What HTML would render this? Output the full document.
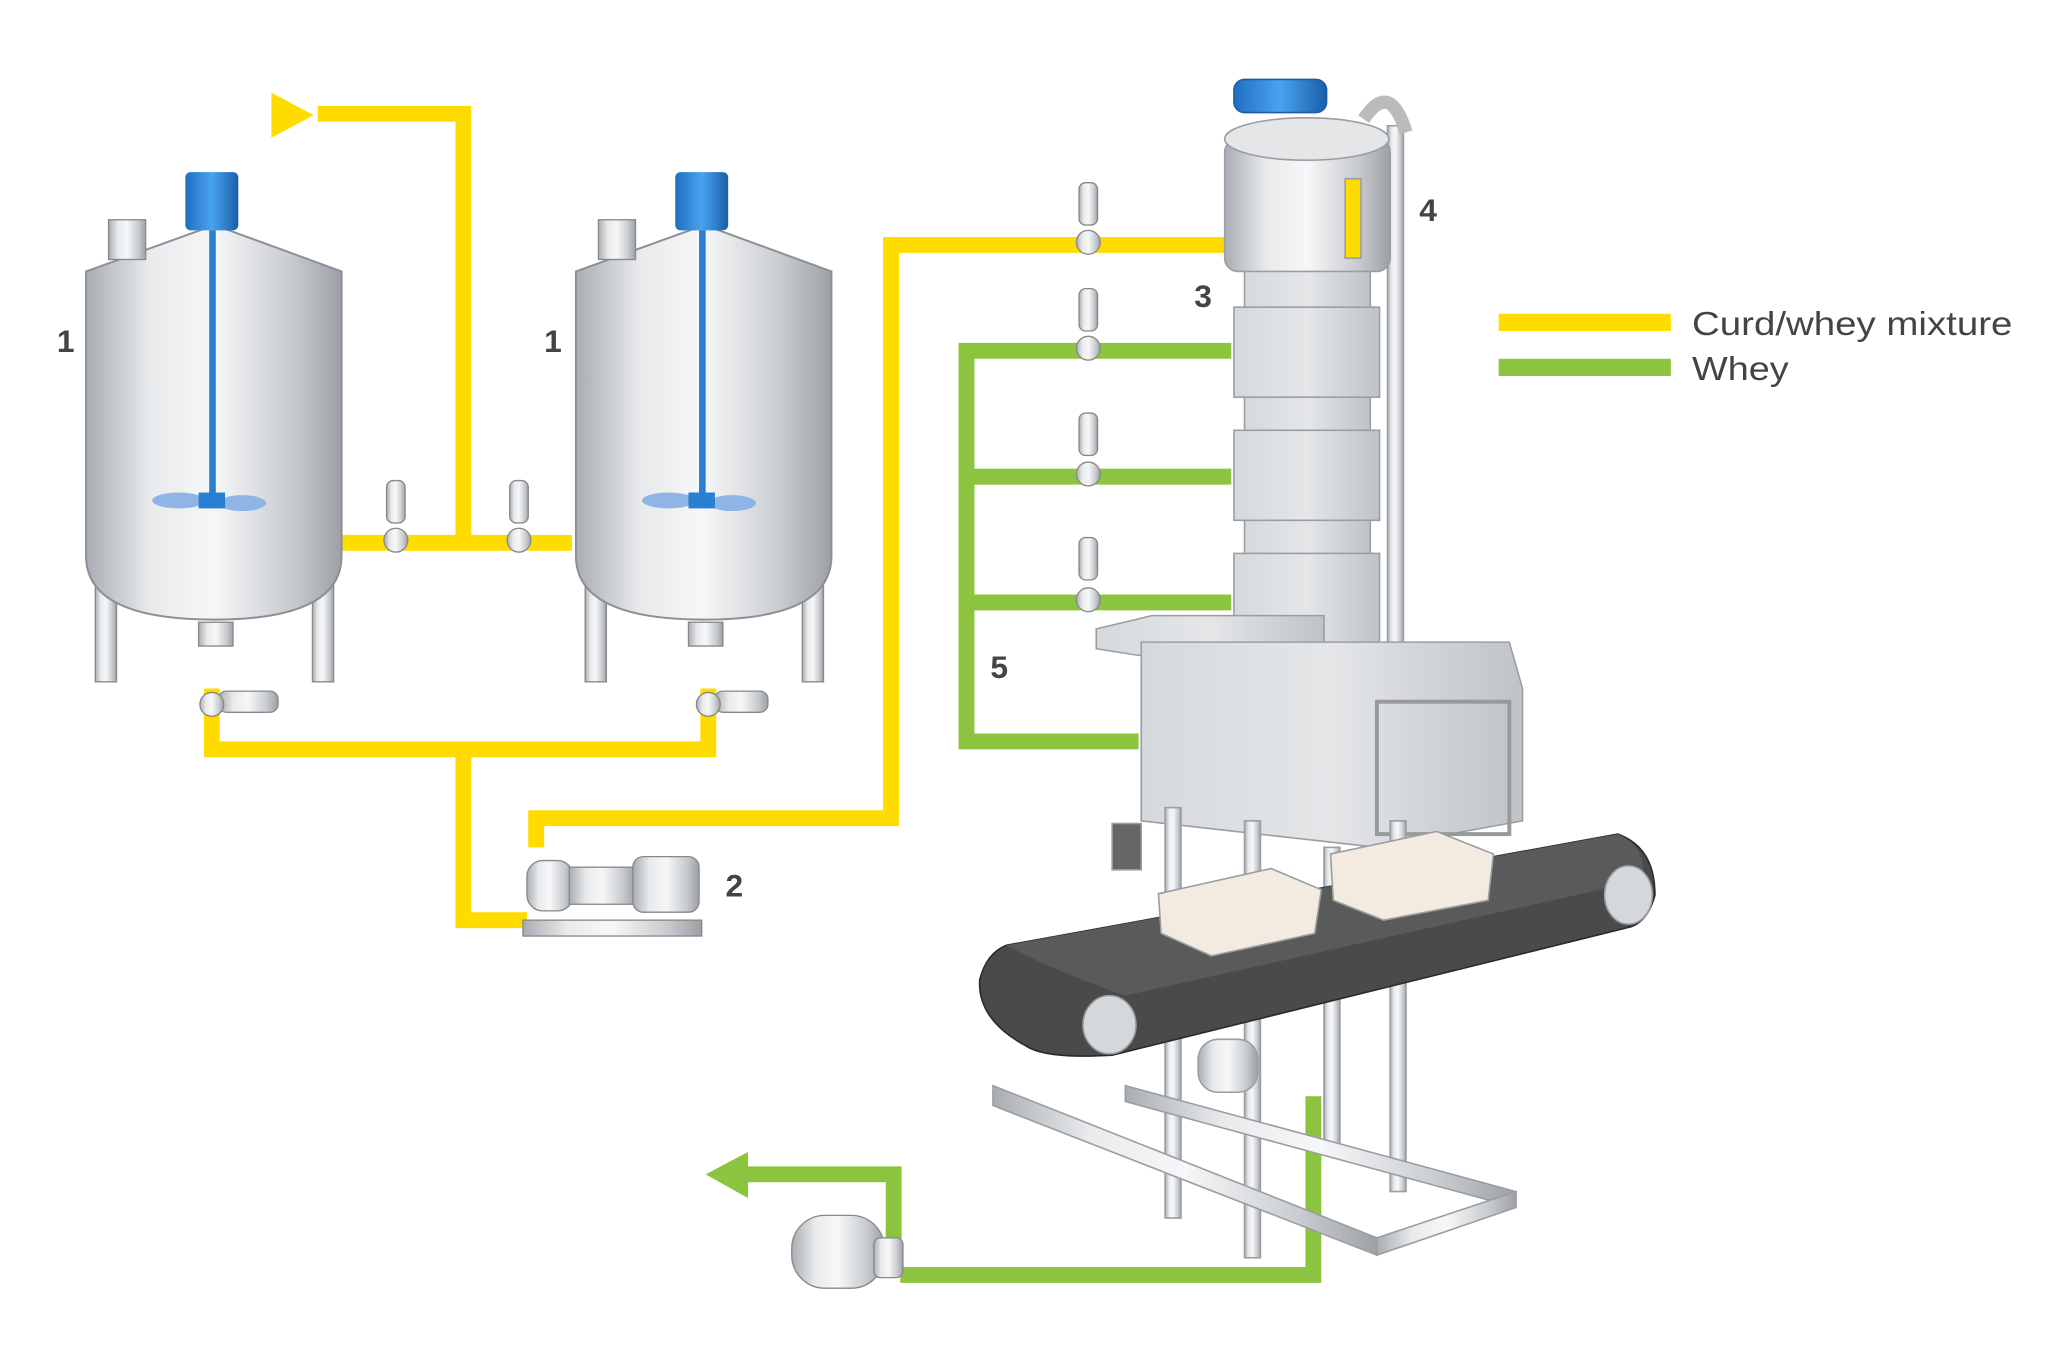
<!DOCTYPE html>
<html><head><meta charset="utf-8"><style>
html,body{margin:0;padding:0;background:#fff;}
svg{display:block}
text{font-family:"Liberation Sans",sans-serif;}
</style></head><body>
<svg width="2072" height="1365" viewBox="0 0 1565 1031" xmlns="http://www.w3.org/2000/svg">
<defs>
<linearGradient id="steel" x1="0" x2="1">
<stop offset="0" stop-color="#a9adb2"/><stop offset="0.25" stop-color="#e8eaec"/><stop offset="0.5" stop-color="#f6f7f8"/><stop offset="0.8" stop-color="#c9ccd0"/><stop offset="1" stop-color="#9da1a6"/>
</linearGradient>
<linearGradient id="box" x1="0" x2="1">
<stop offset="0" stop-color="#d6d9dc"/><stop offset="0.5" stop-color="#e4e6e8"/><stop offset="1" stop-color="#bfc3c7"/>
</linearGradient>
<linearGradient id="blue" x1="0" x2="1">
<stop offset="0" stop-color="#1f6fc0"/><stop offset="0.5" stop-color="#4aa3f0"/><stop offset="1" stop-color="#1a5ea8"/>
</linearGradient>
</defs>

<!-- yellow pipes -->
<g fill="none" stroke="#ffdc00" stroke-width="12">
<polyline points="240,86 350,86 350,410"/>
<polyline points="258,410 432,410"/>
<polyline points="160,520 160,566 535,566 535,520"/>
<polyline points="350,566 350,695 398,695"/>
<polyline points="405,640 405,618 673,618 673,185 930,185"/>
</g>
<polygon points="205,70 237,87 205,104" fill="#ffdc00"/>

<!-- green pipes -->
<g fill="none" stroke="#8cc43f" stroke-width="12">
<polyline points="930,265 730,265 730,560 860,560"/>
<polyline points="730,360 930,360"/>
<polyline points="730,455 930,455"/>
<polyline points="992,828 992,963 680,963"/>
<polyline points="675,945 675,887 565,887"/>
</g>
<polygon points="565,870 533,887 565,905" fill="#8cc43f"/>

<!-- tanks -->
<g>
<g id="tank">
<rect x="72" y="410" width="16" height="105" fill="url(#steel)" stroke="#888" stroke-width="1"/>
<rect x="236" y="410" width="16" height="105" fill="url(#steel)" stroke="#888" stroke-width="1"/>
<rect x="150" y="470" width="26" height="18" fill="url(#steel)" stroke="#888"/>
<path d="M65,205 L162,170 L258,205 L258,420 Q258,468 162,468 Q65,468 65,420 Z" fill="url(#steel)" stroke="#8c9096" stroke-width="1.5"/>
<rect x="82" y="166" width="28" height="30" fill="url(#steel)" stroke="#888"/>
<rect x="140" y="130" width="40" height="44" rx="4" fill="url(#blue)"/>
<rect x="158" y="174" width="5" height="200" fill="#2b7fd2"/>
<ellipse cx="135" cy="378" rx="20" ry="6" fill="#8fb4e6"/>
<ellipse cx="183" cy="380" rx="18" ry="6" fill="#8fb4e6"/>
<rect x="150" y="372" width="20" height="12" fill="#2b7fd2"/>
</g>
<use href="#tank" transform="translate(370,0)"/>
</g>

<!-- valves -->
<g fill="url(#steel)" stroke="#888">
<rect x="292" y="363" width="14" height="32" rx="5"/><circle cx="299" cy="408" r="9"/>
<rect x="385" y="363" width="14" height="32" rx="5"/><circle cx="392" cy="408" r="9"/>
<rect x="815" y="138" width="14" height="32" rx="5"/><circle cx="822" cy="183" r="9"/>
<rect x="815" y="218" width="14" height="32" rx="5"/><circle cx="822" cy="263" r="9"/>
<rect x="815" y="312" width="14" height="32" rx="5"/><circle cx="822" cy="358" r="9"/>
<rect x="815" y="406" width="14" height="32" rx="5"/><circle cx="822" cy="453" r="9"/>
<rect x="165" y="522" width="45" height="16" rx="6"/><circle cx="160" cy="532" r="9"/>
<rect x="540" y="522" width="40" height="16" rx="6"/><circle cx="535" cy="532" r="9"/>
</g>

<!-- pump 2 -->
<g fill="url(#steel)" stroke="#888">
<rect x="395" y="695" width="135" height="12"/>
<rect x="398" y="650" width="35" height="38" rx="12"/>
<rect x="430" y="655" width="50" height="28"/>
<rect x="478" y="647" width="50" height="42" rx="8"/>
</g>
<!-- pump bottom -->
<g fill="url(#steel)" stroke="#888">
<rect x="598" y="918" width="70" height="55" rx="25"/>
<rect x="660" y="935" width="22" height="30" rx="5"/>
</g>

<!-- tower -->
<g stroke="#9a9ea3" stroke-width="1.2">
<rect x="1048" y="95" width="12" height="400" fill="url(#steel)"/>
<path d="M1030,90 Q1050,60 1062,100" fill="none" stroke="#bbb" stroke-width="10"/>
<rect x="932" y="60" width="70" height="25" rx="8" fill="url(#blue)" stroke="#1a5ea8"/>
<rect x="940" y="200" width="95" height="320" fill="url(#box)"/>
<rect x="925" y="105" width="125" height="100" rx="10" fill="url(#steel)"/>
<ellipse cx="987" cy="105" rx="62" ry="16" fill="#e4e6e8"/>
<rect x="1016" y="135" width="12" height="60" fill="#ffdc00"/>
<rect x="932" y="232" width="110" height="68" fill="url(#box)"/>
<rect x="932" y="325" width="110" height="68" fill="url(#box)"/>
<rect x="932" y="418" width="110" height="68" fill="url(#box)"/>
<polygon points="828,475 870,465 1000,465 1000,495 860,495 828,490" fill="url(#box)"/>
<polygon points="862,485 1140,485 1150,520 1150,620 1040,640 862,620" fill="url(#box)"/>
<rect x="1040" y="530" width="100" height="100" fill="none" stroke="#999" stroke-width="3"/>
<rect x="840" y="622" width="22" height="35" fill="#666"/>
<!-- legs -->
<g fill="url(#steel)">
<rect x="880" y="610" width="12" height="310"/>
<rect x="940" y="620" width="12" height="330"/>
<rect x="1050" y="620" width="12" height="280"/>
<rect x="1000" y="640" width="12" height="230"/>
<polygon points="750,820 1040,935 1040,948 750,835"/>
<polygon points="850,820 1145,900 1145,912 850,832"/>
<polygon points="1040,935 1145,900 1145,912 1040,948"/>
</g>
<!-- belt -->
<path d="M760,714 L1222,630 Q1250,640 1250,676 Q1245,695 1232,700 L840,797 Q790,800 775,790 Q738,770 740,740 Q745,720 760,714 Z" fill="#4a4a4a" stroke="#2a2a2a"/>
<path d="M760,714 L1222,630 Q1245,640 1240,665 L850,752 Q800,735 760,714 Z" fill="#5a5a5a" stroke="none"/>
<ellipse cx="838" cy="774" rx="20" ry="22" fill="#d5d8db"/>
<ellipse cx="1230" cy="676" rx="18" ry="22" fill="#d5d8db"/>
<!-- trays -->
<polygon points="875,675 960,656 998,672 993,705 915,722 877,705" fill="#f3ebe0"/>
<polygon points="1005,645 1085,628 1128,645 1124,680 1045,695 1007,680" fill="#f3ebe0"/>
<rect x="905" y="785" width="45" height="40" rx="15" fill="url(#steel)"/>
</g>

<!-- labels -->
<g font-weight="bold" font-size="24" fill="#444">
<text x="43" y="266">1</text>
<text x="411" y="266">1</text>
<text x="548" y="677">2</text>
<text x="902" y="232">3</text>
<text x="1072" y="167">4</text>
<text x="748" y="512">5</text>
</g>
<rect x="1132" y="237" width="130" height="13" fill="#ffdc00"/>
<rect x="1132" y="271" width="130" height="13" fill="#8cc43f"/>
<g font-size="25" fill="#444">
<text x="1278" y="253" textLength="242" lengthAdjust="spacingAndGlyphs">Curd/whey mixture</text>
<text x="1278" y="287" textLength="73" lengthAdjust="spacingAndGlyphs">Whey</text>
</g>
</svg>
</body></html>
